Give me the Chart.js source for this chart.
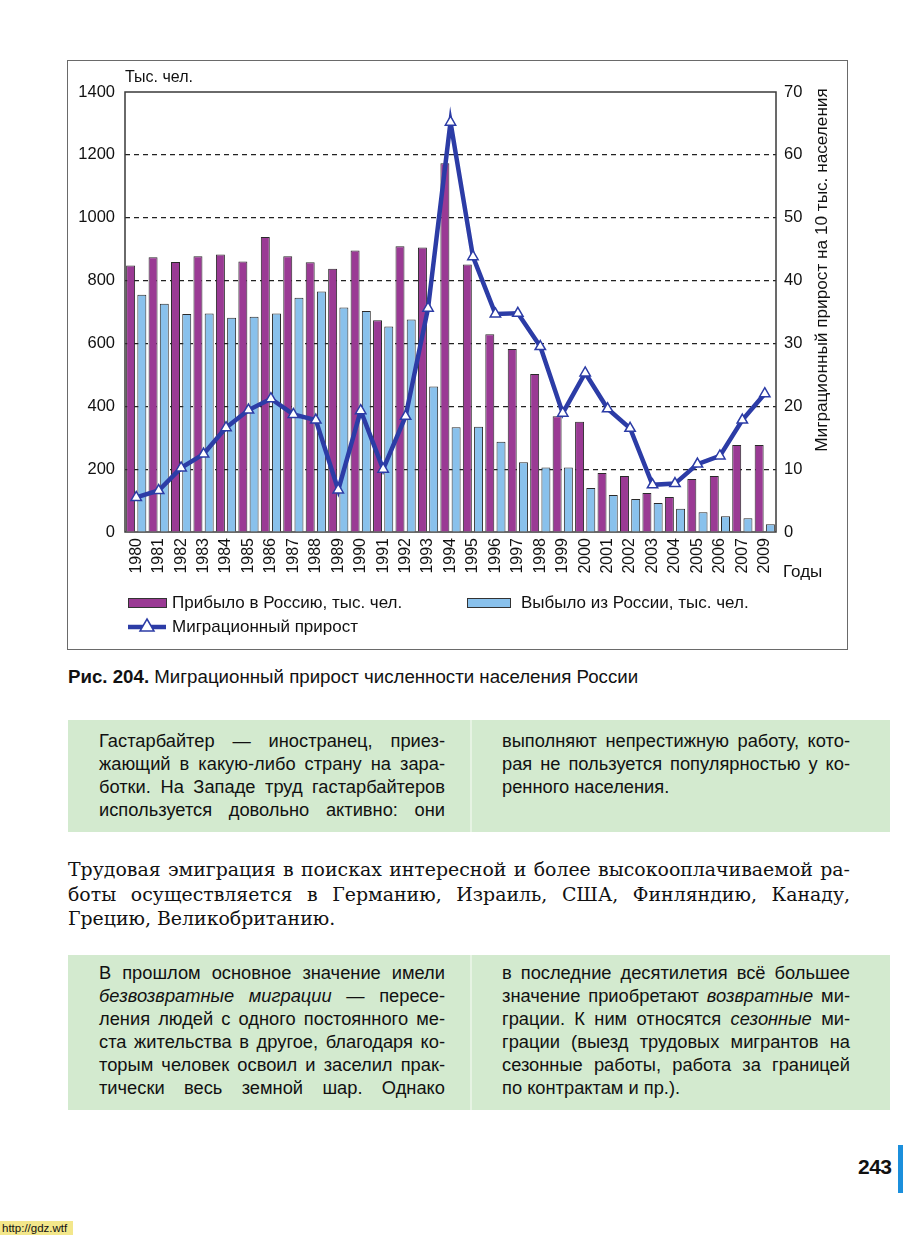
<!DOCTYPE html>
<html>
<head>
<meta charset="utf-8">
<script src="https://cdn.jsdelivr.net/npm/chart.js@4.4.0/dist/chart.umd.min.js"></script>
<style>
  html, body { margin:0; padding:0; background:#fff; }
  body { width:903px; height:1235px; position:relative; overflow:hidden; font-family:"Liberation Sans", Arial, sans-serif; color:#111; }
  #frame { position:absolute; left:67px; top:60px; width:781px; height:590px; box-sizing:border-box; border:1.5px solid #6a6a6a; }
  #chart { position:absolute; left:67px; top:60px; }
  .caption { position:absolute; left:68px; top:666px; font-size:18.7px; white-space:nowrap; }
  .caption b { font-weight:bold; }
  .box { position:absolute; left:68px; width:822px; background:#d3eacf; }
  .divider { position:absolute; top:0; bottom:0; left:402px; width:2px; background:#e6f3e3; }
  .col { position:absolute; font-size:18.3px; line-height:23px; }
  .ln { display:block; text-align:justify; text-align-last:justify; white-space:nowrap; height:23px; }
  .ln.last { text-align-last:left; }
  .para { position:absolute; left:68px; top:857px; width:782px; font-family:"DejaVu Serif", "Liberation Serif", serif; font-size:18.9px; line-height:24.5px; }
  .para .ln { height:24.5px; }
  .pnum { position:absolute; left:858px; top:1155px; font-weight:bold; font-size:21px; letter-spacing:-0.5px; }
  .tab { position:absolute; left:898px; top:1145px; width:5px; height:48px; background:#1b8fdc; }
  .wm { position:absolute; left:0; top:1221px; width:73px; height:14px; background:#f3e78b; font-size:11.5px; line-height:14px; padding-left:2px; box-sizing:border-box; }
</style>
</head>
<body>
<div id="frame"></div>
<canvas id="chart" width="781" height="590"></canvas>

<div class="caption"><b>Рис. 204.</b> Миграционный прирост численности населения России</div>

<div class="box" style="top:720px;height:112px;">
  <div class="divider"></div>
  <div class="col" style="left:31px;top:9px;width:346px;">
    <span class="ln">Гастарбайтер — иностранец, приез-</span>
    <span class="ln">жающий в какую-либо страну на зара-</span>
    <span class="ln">ботки. На Западе труд гастарбайтеров</span>
    <span class="ln">используется довольно активно: они</span>
  </div>
  <div class="col" style="left:434px;top:9px;width:348px;">
    <span class="ln">выполняют непрестижную работу, кото-</span>
    <span class="ln">рая не пользуется популярностью у ко-</span>
    <span class="ln last">ренного населения.</span>
  </div>
</div>

<div class="para">
  <span class="ln">Трудовая эмиграция в поисках интересной и более высокооплачиваемой ра-</span>
  <span class="ln">боты осуществляется в Германию, Израиль, США, Финляндию, Канаду,</span>
  <span class="ln last">Грецию, Великобританию.</span>
</div>

<div class="box" style="top:955px;height:155px;">
  <div class="divider"></div>
  <div class="col" style="left:31px;top:6px;width:346px;">
    <span class="ln">В прошлом основное значение имели</span>
    <span class="ln"><i>безвозвратные миграции</i> — пересе-</span>
    <span class="ln">ления людей с одного постоянного ме-</span>
    <span class="ln">ста жительства в другое, благодаря ко-</span>
    <span class="ln">торым человек освоил и заселил прак-</span>
    <span class="ln">тически весь земной шар. Однако</span>
  </div>
  <div class="col" style="left:434px;top:6px;width:348px;">
    <span class="ln">в последние десятилетия всё большее</span>
    <span class="ln">значение приобретают <i>возвратные</i> ми-</span>
    <span class="ln">грации. К ним относятся <i>сезонные</i> ми-</span>
    <span class="ln">грации (выезд трудовых мигрантов на</span>
    <span class="ln">сезонные работы, работа за границей</span>
    <span class="ln last">по контрактам и пр.).</span>
  </div>
</div>

<div class="pnum">243</div>
<div class="tab"></div>
<div class="wm">http://gdz.wtf</div>

<script>
// ---- data ----
const years = ['1980','1981','1982','1983','1984','1985','1986','1987','1988','1989',
  '1990','1991','1992','1993','1994','1995','1996','1997','1998','1999',
  '2000','2001','2002','2003','2004','2005','2006','2007','2009'];
const arrived = [848, 874, 859, 877, 883, 861, 939, 877, 858, 838,
  896, 674, 909, 905, 1173, 851, 629, 582, 503, 368,
  351, 188, 178, 124, 111, 169, 178, 277, 277];
const departed = [755, 726, 694, 695, 682, 685, 695, 745, 765, 714,
  703, 654, 676, 463, 333, 335, 287, 222, 205, 205,
  140, 118, 105, 92, 74, 63, 50, 44, 25];
const migrationRate = [5.5, 6.6, 10.2, 12.4, 16.6, 19.4, 21.2, 18.7, 17.8, 6.7,
  19.3, 10.0, 18.4, 35.6, 65.2, 43.8, 34.7, 34.8, 29.5, 18.9,
  25.3, 19.6, 16.5, 7.5, 7.7, 10.8, 12.1, 17.8, 22.0];
const leftTicks = [0, 200, 400, 600, 800, 1000, 1200, 1400];
const rightTicks = [0, 10, 20, 30, 40, 50, 60, 70];
const labelArrived = 'Прибыло в Россию, тыс. чел.';
const labelDeparted = 'Выбыло из России, тыс. чел.';
const labelRate = 'Миграционный прирост';

const PURPLE = '#9a3a94';
const BLUE = '#89c1ec';
const LINE = '#2c3ca6';
const FONT = '"Liberation Sans", Arial, sans-serif';

const extras = {
  id: 'extras',
  beforeDatasetsDraw(chart) {
    const { ctx, chartArea: a } = chart;
    ctx.save();
    ctx.strokeStyle = '#3a3a3a';
    ctx.lineWidth = 1.5;
    ctx.strokeRect(a.left, a.top, a.right - a.left, a.bottom - a.top);
    ctx.restore();
  },
  afterDraw(chart) {
    const { ctx, chartArea: a } = chart;
    ctx.save();
    ctx.fillStyle = '#111';
    ctx.textBaseline = 'middle';
    ctx.font = '16px ' + FONT;
    ctx.textAlign = 'left';
    ctx.fillText('Тыс. чел.', a.left, 18);
    ctx.font = '17px ' + FONT;
    ctx.fillText('Годы', 716, 512);
    // right axis title
    ctx.save();
    ctx.translate(755, 210);
    ctx.rotate(-Math.PI / 2);
    ctx.textAlign = 'center';
    ctx.font = '17.2px ' + FONT;
    ctx.fillText('Миграционный прирост на 10 тыс. населения', 0, 0);
    ctx.restore();
    // legend
    ctx.font = '17px ' + FONT;
    ctx.textAlign = 'left';
    const sw = (x, y, w, c) => {
      ctx.fillStyle = c; ctx.fillRect(x, y - 5, w, 10);
      ctx.strokeStyle = '#333'; ctx.lineWidth = 1; ctx.strokeRect(x + 0.5, y - 4.5, w - 1, 9);
    };
    const r1 = 543;
    sw(61, r1, 39, PURPLE);
    ctx.fillStyle = '#111';
    ctx.fillText(labelArrived, 105, r1);
    sw(400, r1, 44, BLUE);
    ctx.fillStyle = '#111';
    ctx.fillText(labelDeparted, 454, r1);
    // line legend
    const ly = 567;
    ctx.strokeStyle = LINE; ctx.lineWidth = 4.5;
    ctx.beginPath(); ctx.moveTo(61, ly); ctx.lineTo(99, ly); ctx.stroke();
    ctx.beginPath();
    ctx.moveTo(80, ly - 8); ctx.lineTo(87, ly + 4); ctx.lineTo(73, ly + 4); ctx.closePath();
    ctx.fillStyle = '#fff'; ctx.fill();
    ctx.lineWidth = 1.5; ctx.stroke();
    ctx.fillStyle = '#111';
    ctx.fillText(labelRate, 105, ly);
    ctx.restore();
  }
};

new Chart(document.getElementById('chart'), {
  data: {
    labels: years,
    datasets: [
      { type: 'line', label: labelRate, data: migrationRate, yAxisID: 'y1', order: 0,
        borderColor: LINE, borderWidth: 4.5, tension: 0,
        pointStyle: 'triangle', pointRadius: 6, pointBackgroundColor: '#fff',
        pointBorderColor: LINE, pointBorderWidth: 1.5 },
      { type: 'bar', label: labelArrived, data: arrived, yAxisID: 'y', order: 1,
        backgroundColor: PURPLE, borderColor: '#2a2a2a', borderWidth: 1,
        barPercentage: 0.8, categoryPercentage: 1 },
      { type: 'bar', label: labelDeparted, data: departed, yAxisID: 'y', order: 1,
        backgroundColor: BLUE, borderColor: '#2a2a2a', borderWidth: 1,
        barPercentage: 0.8, categoryPercentage: 1 }
    ]
  },
  options: {
    responsive: false,
    animation: false,
    layout: { padding: { top: 32, left: 0, right: 0, bottom: 0 } },
    plugins: { legend: { display: false }, tooltip: { enabled: false } },
    scales: {
      x: {
        offset: true,
        grid: { display: false, drawTicks: false },
        border: { display: false },
        ticks: { color: '#111', font: { family: FONT, size: 16 }, maxRotation: 90, minRotation: 90, autoSkip: false, padding: 6 },
        afterFit: s => { s.height = 118; }
      },
      y: {
        position: 'left', min: 0, max: 1400,
        afterBuildTicks: s => { s.ticks = leftTicks.map(v => ({ value: v })); },
        ticks: { color: '#111', font: { family: FONT, size: 16.5 }, padding: 10, callback: v => String(v) },
        grid: { drawTicks: false, tickLength: 0, lineWidth: 1.2,
          color: c => (c.tick && (c.tick.value === 0 || c.tick.value === 1400)) ? 'rgba(0,0,0,0)' : '#222' },
        border: { display: false, dash: [5, 4] },
        afterFit: s => { s.width = 58; }
      },
      y1: {
        position: 'right', min: 0, max: 70,
        afterBuildTicks: s => { s.ticks = rightTicks.map(v => ({ value: v })); },
        ticks: { color: '#111', font: { family: FONT, size: 16.5 }, padding: 8, callback: v => String(v) },
        grid: { drawOnChartArea: false, drawTicks: false, tickLength: 0 },
        border: { display: false },
        afterFit: s => { s.width = 72; }
      }
    }
  },
  plugins: [extras]
});
</script>
</body>
</html>
